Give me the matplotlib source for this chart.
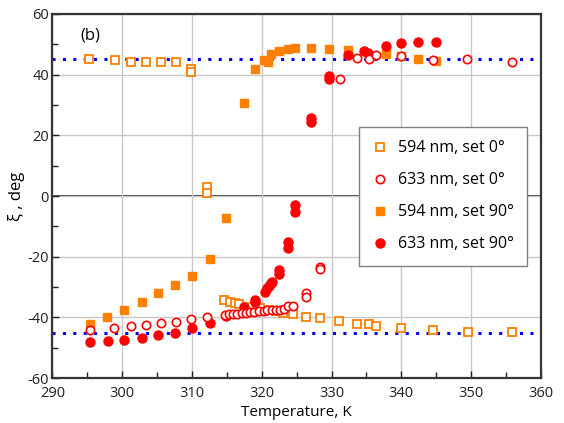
import matplotlib
matplotlib.use("Agg")
import matplotlib.pyplot as plt
from matplotlib.ticker import MultipleLocator

# 594 nm, set 0 deg (open squares)
t_594_0 = [295.3, 298.9, 301.2, 303.4, 305.5, 307.7, 309.9, 309.9, 312.2, 312.2,
           314.6, 315.4, 316.1, 316.8, 318.2, 319.7, 321.0, 322.0, 323.1, 324.5,
           326.4, 328.3, 331.1, 333.7, 335.4, 336.3, 340.0, 344.6, 349.5, 355.8]
xi_594_0 = [45.2, 44.8, 44.3, 44.2, 44.2, 44.1, 41.9, 41.0, 3.1, 0.9,
            -34.1, -34.8, -35.2, -35.6, -36.5, -37.0, -37.5, -38.0, -38.5, -38.8,
            -39.8, -40.1, -41.1, -42.2, -42.2, -42.9, -43.4, -44.2, -44.8, -44.8]

# 633 nm, set 0 deg (open circles)
t_633_0 = [295.4, 298.8, 301.3, 303.4, 305.5, 307.7, 309.9, 312.2, 314.7, 315.3,
           315.9, 316.5, 317.1, 317.7, 318.3, 318.9, 319.6, 320.3, 320.8, 321.4,
           322.0, 322.6, 323.2, 323.8, 324.5, 326.4, 326.4, 328.3, 328.3, 331.2,
           333.6, 335.4, 336.3, 340.0, 344.5, 349.4, 355.8]
xi_633_0 = [-44.2, -43.6, -42.9, -42.5, -41.8, -41.4, -40.6, -39.8, -39.2, -39.0,
            -38.9, -38.7, -38.5, -38.4, -38.2, -38.1, -38.0, -37.9, -37.7, -37.7,
            -37.6, -37.4, -37.1, -36.3, -36.3, -32.1, -33.2, -23.3, -24.1, 38.5,
            45.5, 45.3, 46.5, 46.2, 44.7, 45.1, 44.1]

# 594 nm, set 90 deg (filled squares)
t_594_90 = [295.4, 297.8, 300.2, 302.8, 305.1, 307.6, 310.0, 312.6, 314.9, 317.5,
            319.1, 320.3, 320.9, 321.3, 322.4, 323.8, 324.8, 327.0, 329.7, 332.4,
            337.8, 340.0, 342.4, 345.0]
xi_594_90 = [-42.2, -39.8, -37.4, -34.8, -32.0, -29.3, -26.3, -20.8, -7.1, 30.8,
             41.8, 44.8, 44.1, 46.8, 47.8, 48.5, 48.9, 48.9, 48.6, 48.0,
             46.7, 46.0, 45.3, 44.6]

# 633 nm, set 90 deg (filled circles)
t_633_90 = [295.4, 297.9, 300.2, 302.8, 305.1, 307.6, 310.0, 312.6, 314.9, 317.5,
            319.1, 319.1, 320.4, 320.8, 321.1, 321.3, 321.4, 322.5, 322.5, 323.8,
            323.8, 324.8, 324.8, 327.0, 327.0, 329.7, 329.7, 332.4, 334.7, 335.2,
            337.8, 339.9, 342.4, 345.0]
xi_633_90 = [-48.0, -47.8, -47.5, -46.9, -45.8, -45.1, -43.4, -41.7, -39.6, -36.5,
             -34.1, -34.8, -31.5, -30.4, -29.7, -28.8, -28.2, -24.2, -25.8, -15.1,
             -17.0, -3.0, -5.4, 25.8, 24.5, 39.6, 38.5, 46.5, 47.9, 47.0,
             49.6, 50.3, 50.8, 50.8]

plt.rcParams["font.family"] = ["Open Sans", "DejaVu Sans"]
plt.rcParams["axes.unicode_minus"] = False

orange = "#ff8000"
red = "#ff0000"

fig = plt.figure(figsize=(5.64, 4.23), dpi=100)
ax = fig.add_axes([0.093, 0.106, 0.866, 0.861])

ax.set_xlim(290, 360)
ax.set_ylim(-60, 60)
ax.xaxis.set_major_locator(MultipleLocator(10))
ax.xaxis.set_minor_locator(MultipleLocator(5))
ax.yaxis.set_major_locator(MultipleLocator(20))
ax.yaxis.set_minor_locator(MultipleLocator(10))
ax.grid(True, which="major", color="#c8c8c8", linewidth=1.0, zorder=0)
ax.tick_params(which="both", direction="in", labelsize=10.5, colors="#202020",
               top=False, right=False)
ax.tick_params(which="major", length=5, width=1)
ax.tick_params(which="minor", length=4, width=1)
ax.tick_params(axis="x", which="major", pad=5.5)
ax.tick_params(axis="y", which="major", pad=2.5)
for lbl in ax.get_yticklabels():
    lbl.set_verticalalignment("center_baseline")
for s in ax.spines.values():
    s.set_linewidth(1.6)
    s.set_color("#353535")

ax.axhline(0, color="#303030", linewidth=1.3, zorder=1)
ax.axhline(45, color="#0000ff", linestyle=(0, (1, 2.4)), linewidth=2.2, zorder=2)
ax.axhline(-45, color="#0000ff", linestyle=(0, (1, 2.4)), linewidth=2.2, zorder=2)

ax.plot(t_594_0, xi_594_0, "s", ms=5.5, mfc="white", mec=orange, mew=1.3,
        ls="none", label="594 nm, set 0°", zorder=3)
ax.plot(t_633_0, xi_633_0, "o", ms=6, mfc="white", mec=red, mew=1.2,
        ls="none", label="633 nm, set 0°", zorder=4)
ax.plot(t_594_90, xi_594_90, "s", ms=5.5, color=orange, mec=orange,
        ls="none", label="594 nm, set 90°", zorder=3)
ax.plot(t_633_90, xi_633_90, "o", ms=6.5, color=red, mec=red,
        ls="none", label="633 nm, set 90°", zorder=3)

leg = ax.legend(loc="upper left", bbox_to_anchor=(0.627, 0.69), borderaxespad=0,
                fontsize=11.5, labelspacing=1.0, borderpad=0.85, handlelength=1.0,
                handletextpad=0.6, fancybox=False, framealpha=1,
                edgecolor="#808080")
leg.get_frame().set_linewidth(1.0)

ax.text(0.057, 0.94, "(b)", transform=ax.transAxes, fontsize=12, va="center")
ax.set_xlabel("Temperature, K", fontsize=11, labelpad=3)
ax.set_ylabel("ξ , deg", fontsize=12)
ax.yaxis.set_label_coords(-0.056, 0.5)

fig.savefig("out.png", dpi=100)
